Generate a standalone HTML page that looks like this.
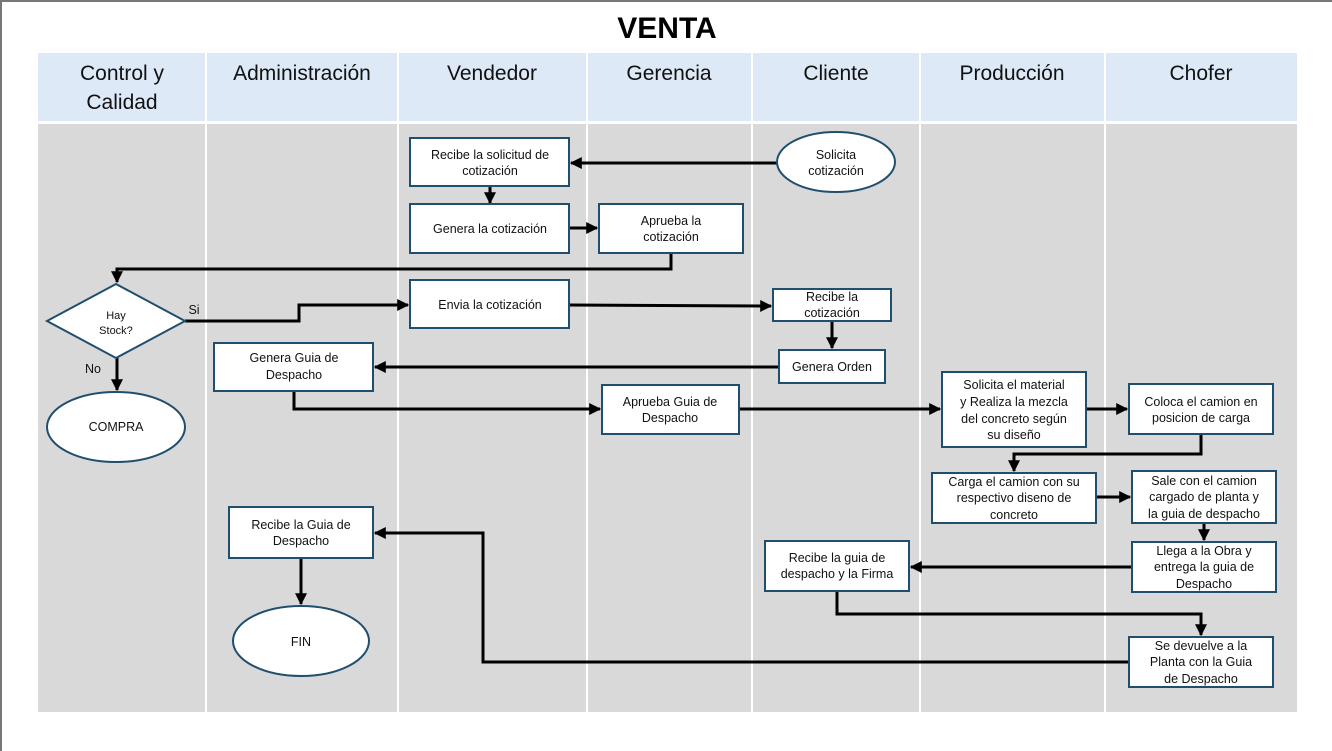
<!DOCTYPE html>
<html><head><meta charset="utf-8"><style>
html,body{margin:0;padding:0;background:#fff;}
svg{display:block;font-family:"Liberation Sans",sans-serif;}
</style></head><body>
<svg width="1332" height="751" viewBox="0 0 1332 751" xmlns="http://www.w3.org/2000/svg">
<defs><marker id="a" viewBox="0 0 10 10" refX="9" refY="5" markerWidth="4" markerHeight="4" orient="auto"><path d="M0,0L10,5L0,10z" fill="#000"/></marker></defs>
<rect x="0" y="0" width="1332" height="751" fill="#fff"/>
<line x1="0" y1="1" x2="1332" y2="1" stroke="#777" stroke-width="2"/>
<line x1="1" y1="0" x2="1" y2="751" stroke="#777" stroke-width="2"/>
<text x="667" y="38" font-size="30" font-weight="bold" text-anchor="middle">VENTA</text>
<g fill="#dde9f6">
<rect x="38" y="53" width="167" height="68"/><rect x="207" y="53" width="190" height="68"/><rect x="399" y="53" width="187" height="68"/><rect x="588" y="53" width="163" height="68"/><rect x="753" y="53" width="166" height="68"/><rect x="921" y="53" width="183" height="68"/><rect x="1106" y="53" width="191" height="68"/>
</g>
<g fill="#d9d9d9">
<rect x="38" y="124" width="167" height="588"/><rect x="207" y="124" width="190" height="588"/><rect x="399" y="124" width="187" height="588"/><rect x="588" y="124" width="163" height="588"/><rect x="753" y="124" width="166" height="588"/><rect x="921" y="124" width="183" height="588"/><rect x="1106" y="124" width="191" height="588"/>
</g>
<g font-size="21" text-anchor="middle" fill="#111">
<text x="122" y="80">Control y</text><text x="122" y="109">Calidad</text>
<text x="302" y="80">Administración</text>
<text x="492" y="80">Vendedor</text>
<text x="669" y="80">Gerencia</text>
<text x="836" y="80">Cliente</text>
<text x="1012" y="80">Producción</text>
<text x="1201" y="80">Chofer</text>
</g>
<g fill="none" stroke="#000" stroke-width="3">
<path d="M777,163H571" marker-end="url(#a)"/>
<path d="M490,186V203" marker-end="url(#a)"/>
<path d="M569,228H597" marker-end="url(#a)"/>
<path d="M671,253V269H117V282" marker-end="url(#a)"/>
<path d="M185,321H299V305H408" marker-end="url(#a)"/>
<path d="M569,305L771,306" marker-end="url(#a)"/>
<path d="M832,321V348" marker-end="url(#a)"/>
<path d="M779,367H375" marker-end="url(#a)"/>
<path d="M294,391V409H600" marker-end="url(#a)"/>
<path d="M739,409H940" marker-end="url(#a)"/>
<path d="M1086,409H1127" marker-end="url(#a)"/>
<path d="M1201,434V454H1014V471" marker-end="url(#a)"/>
<path d="M1096,497H1130" marker-end="url(#a)"/>
<path d="M1204,523V540" marker-end="url(#a)"/>
<path d="M1132,567H911" marker-end="url(#a)"/>
<path d="M837,591V614H1201V635" marker-end="url(#a)"/>
<path d="M1129,662H483V533H375" marker-end="url(#a)"/>
<path d="M301,558V604" marker-end="url(#a)"/>
<path d="M117,358V390" marker-end="url(#a)"/>
</g>
<g fill="#fff" stroke="#1f4e6e" stroke-width="2">
<rect x="410" y="138" width="159" height="48"/>
<rect x="410" y="204" width="159" height="49"/>
<rect x="599" y="204" width="144" height="49"/>
<rect x="410" y="280" width="159" height="48"/>
<rect x="773" y="289" width="118" height="32"/>
<rect x="779" y="350" width="106" height="33"/>
<rect x="214" y="343" width="159" height="48"/>
<rect x="602" y="385" width="137" height="49"/>
<rect x="942" y="372" width="144" height="75"/>
<rect x="1129" y="384" width="144" height="50"/>
<rect x="932" y="473" width="164" height="50"/>
<rect x="1132" y="471" width="144" height="52"/>
<rect x="1132" y="542" width="144" height="50"/>
<rect x="765" y="541" width="144" height="50"/>
<rect x="229" y="507" width="144" height="51"/>
<rect x="1129" y="637" width="144" height="50"/>
<ellipse cx="836" cy="162" rx="59" ry="30"/>
<ellipse cx="116" cy="427" rx="69" ry="35"/>
<ellipse cx="301" cy="641" rx="68" ry="35"/>
<path d="M116,284L185,321L116,358L47,321Z"/>
</g>
<g font-size="12.5" text-anchor="middle" fill="#111">
<text x="490" y="159">Recibe la solicitud de</text><text x="490" y="175">cotización</text>
<text x="490" y="233">Genera la cotización</text>
<text x="671" y="225">Aprueba la</text><text x="671" y="241">cotización</text>
<text x="490" y="309">Envia la cotización</text>
<text x="832" y="301">Recibe la</text><text x="832" y="317">cotización</text>
<text x="832" y="371">Genera Orden</text>
<text x="294" y="362">Genera Guia de</text><text x="294" y="379">Despacho</text>
<text x="670" y="406">Aprueba Guia de</text><text x="670" y="422">Despacho</text>
<text x="1014" y="389">Solicita el material</text><text x="1014" y="406">y Realiza la mezcla</text><text x="1014" y="423">del concreto según</text><text x="1014" y="439">su diseño</text>
<text x="1201" y="406">Coloca el camion en</text><text x="1201" y="422">posicion de carga</text>
<text x="1014" y="486">Carga el camion con su</text><text x="1014" y="502">respectivo diseno de</text><text x="1014" y="519">concreto</text>
<text x="1204" y="485">Sale con el camion</text><text x="1204" y="501">cargado de planta y</text><text x="1204" y="518">la guia de despacho</text>
<text x="1204" y="555">Llega a la Obra y</text><text x="1204" y="571">entrega la guia de</text><text x="1204" y="588">Despacho</text>
<text x="837" y="562">Recibe la guia de</text><text x="837" y="578">despacho y la Firma</text>
<text x="301" y="529">Recibe la Guia de</text><text x="301" y="545">Despacho</text>
<text x="1201" y="650">Se devuelve a la</text><text x="1201" y="666">Planta con la Guia</text><text x="1201" y="683">de Despacho</text>
<text x="836" y="159">Solicita</text><text x="836" y="175">cotización</text>
<text x="116" y="431">COMPRA</text>
<text x="301" y="646">FIN</text>
<text x="116" y="319" font-size="11">Hay</text><text x="116" y="334" font-size="11">Stock?</text>
<text x="194" y="314">Si</text>
<text x="93" y="373">No</text>
</g>
</svg>
</body></html>
